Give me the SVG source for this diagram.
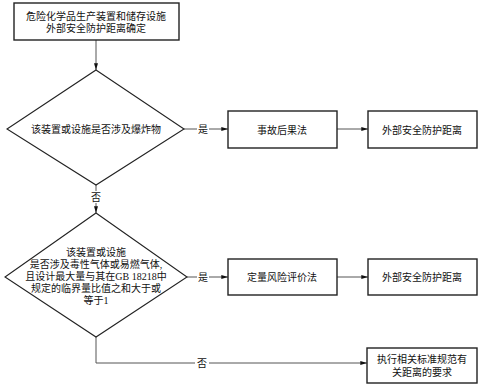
<svg xmlns="http://www.w3.org/2000/svg" width="482" height="388" viewBox="0 0 482 388">
<style>
.box{fill:#fff;stroke:#222;stroke-width:1.4}
.dia{fill:#fff;stroke:#222;stroke-width:1.1}
.ln{fill:none;stroke:#555;stroke-width:1}
.t{font-family:"Liberation Serif","Noto Sans CJK SC",serif;font-size:10px;fill:#111;text-anchor:middle;dominant-baseline:central}
.lbl{font-family:"Liberation Serif","Noto Sans CJK SC",serif;font-size:10px;fill:#111;text-anchor:middle;dominant-baseline:central}
</style>
<defs>
<marker id="ah" viewBox="0 0 10 6" refX="10" refY="3" markerWidth="7" markerHeight="4" orient="auto" markerUnits="userSpaceOnUse">
<path d="M0,0 L10,3 L0,6 z" fill="#111"/>
</marker>
</defs>
<rect width="482" height="388" fill="#fff"/>
<g id="connectors">
<line class="ln" x1="96" y1="40" x2="96" y2="70" marker-end="url(#ah)"/>
<line class="ln" x1="96" y1="185" x2="96" y2="213" marker-end="url(#ah)"/>
<line class="ln" x1="184" y1="129" x2="228" y2="129" marker-end="url(#ah)"/>
<line class="ln" x1="337" y1="129" x2="368" y2="129" marker-end="url(#ah)"/>
<line class="ln" x1="187" y1="277" x2="228" y2="277" marker-end="url(#ah)"/>
<line class="ln" x1="337" y1="277" x2="368" y2="277" marker-end="url(#ah)"/>
<polyline class="ln" points="96,337 96,363 367,363" marker-end="url(#ah)"/>
<rect x="90" y="191" width="12" height="12" fill="#fff"/>
<text class="lbl" x="96" y="197">否</text>
<rect x="197" y="123" width="12" height="12" fill="#fff"/>
<text class="lbl" x="203" y="129">是</text>
<rect x="197" y="271" width="12" height="12" fill="#fff"/>
<text class="lbl" x="203" y="277">是</text>
<rect x="195" y="357" width="14" height="12" fill="#fff"/>
<text class="lbl" x="202" y="363">否</text>
</g>
<g id="start">
<rect class="box" x="14" y="3" width="165" height="37"/>
<text class="t" x="96" y="16">危险化学品生产装置和储存设施</text>
<text class="t" x="96" y="28">外部安全防护距离确定</text>
</g>
<g id="decision1">
<polygon class="dia" points="96,70 184,129 96,185 7,129"/>
<text class="t" x="96" y="129">该装置或设施是否涉及爆炸物</text>
</g>
<g id="method1">
<rect class="box" x="228" y="111" width="109" height="37"/>
<text class="t" x="282" y="130">事故后果法</text>
</g>
<g id="result1">
<rect class="box" x="368" y="111" width="109" height="37"/>
<text class="t" x="422" y="130">外部安全防护距离</text>
</g>
<g id="decision2">
<polygon class="dia" points="96,213 187,277 96,337 5,277"/>
<text class="t" x="96" y="252">该装置或设施</text>
<text class="t" x="96" y="264">是否涉及毒性气体或易燃气体,</text>
<text class="t" x="96" y="276">且设计最大量与其在GB 18218中</text>
<text class="t" x="96" y="288">规定的临界量比值之和大于或</text>
<text class="t" x="96" y="300">等于1</text>
</g>
<g id="method2">
<rect class="box" x="228" y="259" width="109" height="36"/>
<text class="t" x="282" y="277">定量风险评价法</text>
</g>
<g id="result2">
<rect class="box" x="368" y="259" width="109" height="36"/>
<text class="t" x="422" y="277">外部安全防护距离</text>
</g>
<g id="other">
<rect class="box" x="367" y="348" width="110" height="35"/>
<text class="t" x="422" y="359">执行相关标准规范有</text>
<text class="t" x="422" y="372">关距离的要求</text>
</g>
</svg>
